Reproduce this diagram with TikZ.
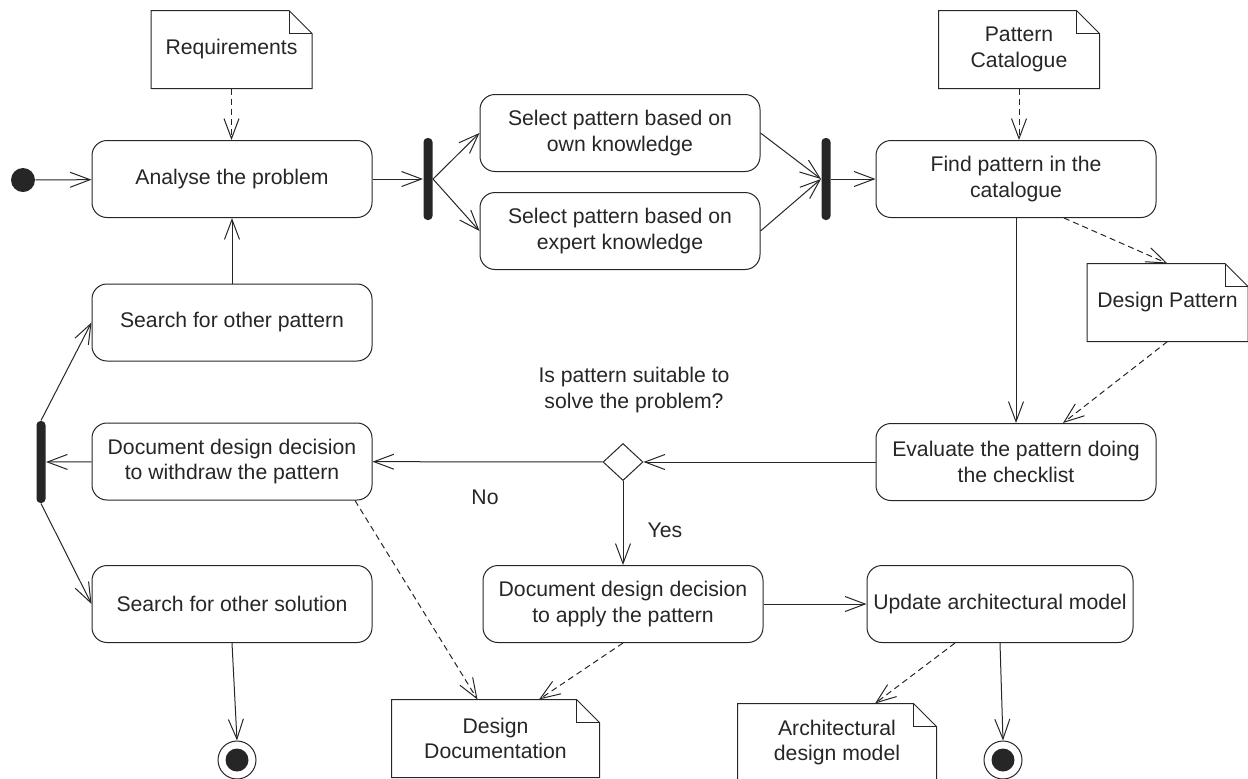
\documentclass[tikz,border=0pt]{standalone}
\usepackage{fontspec}
\setmainfont{Liberation Sans}
\usepackage{xcolor}
\usepackage{tikz}
\usetikzlibrary{arrows.meta,shapes.geometric}
\definecolor{ink}{HTML}{262626}

\begin{document}
\begin{tikzpicture}[x=0.5pt, y=-0.5pt, color=ink, line width=0.5pt,
    font=\fontsize{10.6}{12.6}\selectfont,
    action/.style={draw, rounded corners=7.5pt, minimum width=140pt, minimum height=38.5pt, align=center, inner sep=0pt},
    note/.style={minimum width=80pt, minimum height=38.5pt, align=center, inner sep=0pt},
    bar/.style={fill=ink, rounded corners=2pt, minimum width=4.5pt, minimum height=41pt, inner sep=0pt},
    start/.style={circle, fill=ink, minimum size=12pt, inner sep=0pt},
    finish/.style={circle, draw, minimum size=19pt, inner sep=0pt,
      path picture={\fill[ink] (path picture bounding box.center) circle (5.75pt);}},
    choice/.style={diamond, draw, minimum width=20pt, minimum height=18.5pt, inner sep=0pt},
    flow/.style={-{Straight Barb[length=10pt,width=7.5pt]}},
    dep/.style={flow, dash pattern=on 3pt off 2pt}]
  \useasboundingbox (0,0) rectangle (1248,778);
  \clip (0,0) rectangle (1248,778);

  % Top row
  \node[start] (init) at (23,180) {};
  \node[action] (analyse) at (232,179) {Analyse the problem};
  \node[bar] (fork) at (428,179) {};
  \node[action] (own) at (620,133) {Select pattern based on\\own knowledge};
  \node[action] (expert) at (620,231) {Select pattern based on\\expert knowledge};
  \node[bar] (join) at (826,179) {};
  \node[action] (find) at (1016,179) {Find pattern in the\\catalogue};

  % Notes
  \node[note] (req) at (231.5,49.5) {Requirements};
  \node[note] (cat) at (1019,49.5) {Pattern\\Catalogue};
  \node[note] (dpat) at (1167.5,302.5) {Design Pattern};
  \node[note, minimum width=103.5pt] (ddoc) at (495.5,738.5) {Design\\Documentation};
  \node[note, minimum width=99pt] (arch) at (837,742.5) {Architectural\\design model};
  \foreach \n in {req,cat,dpat,ddoc,arch}{
    \draw (\n.north west) -- ([xshift=-11.5pt]\n.north east) -- ([yshift=-11.5pt]\n.north east)
      -- (\n.south east) -- (\n.south west) -- cycle;
    \draw ([xshift=-11.5pt]\n.north east) |- ([yshift=-11.5pt]\n.north east);
  }

  % Middle rows
  \node[action] (searchpat) at (232,322.5) {Search for other pattern};
  \node[bar] (split) at (41,462) {};
  \node[action] (withdraw) at (232,461.5) {Document design decision\\to withdraw the pattern};
  \node[choice] (decide) at (623,462) {};
  \node[action] (evaluate) at (1016,462) {Evaluate the pattern doing\\the checklist};
  \node[align=center] (question) at (634,390) {Is pattern suitable to\\solve the problem?};
  \node (no) at (485,497) {No};
  \node (yes) at (665,530) {Yes};

  % Bottom row
  \node[action] (searchsol) at (232,604) {Search for other solution};
  \node[action] (apply) at (623,604) {Document design decision\\to apply the pattern};
  \node[action, minimum width=133pt] (update) at (1000,604) {Update architectural model};
  \node[finish] (end1) at (237,760) {};
  \node[finish] (end2) at (1003,760) {};

  % Control flow
  \draw[flow] (init) -- (analyse);
  \draw[flow] (analyse) -- (fork);
  \draw[flow] (fork.east) -- (own.west);
  \draw[flow] (fork.east) -- (expert.west);
  \draw[flow] (own.east) -- (join.west);
  \draw[flow] (expert.east) -- (join.west);
  \draw[flow] (join) -- (find);
  \draw[flow] (find.south) -- (evaluate.north);
  \draw[flow] (evaluate) -- (decide);
  \draw[flow] (decide) -- (withdraw);
  \draw[flow] (decide) -- (apply);
  \draw[flow] (withdraw) -- (split);
  \draw[flow] (split.north) -- (searchpat.west);
  \draw[flow] (split.south) -- (searchsol.west);
  \draw[flow] (searchpat) -- (analyse);
  \draw[flow] (apply) -- (update);
  \draw[flow] (searchsol.south) -- (end1.north);
  \draw[flow] (update.south) -- (end2.north);

  % Object flow
  \draw[dep] (req.south) -- (req.south |- analyse.north);
  \draw[dep] (cat.south) -- (cat.south |- find.north);
  \draw[dep] ([xshift=24pt]find.south) -- (dpat.north);
  \draw[dep] (dpat.south) -- ([xshift=23.5pt]evaluate.north);
  \draw[dep] ([xshift=61.5pt]withdraw.south) -- ([xshift=-9pt]ddoc.north);
  \draw[dep] (apply.south) -- ([xshift=21.75pt]ddoc.north);
  \draw[dep] ([xshift=-22.5pt]update.south) -- ([xshift=19pt]arch.north);
\end{tikzpicture}
\end{document}
